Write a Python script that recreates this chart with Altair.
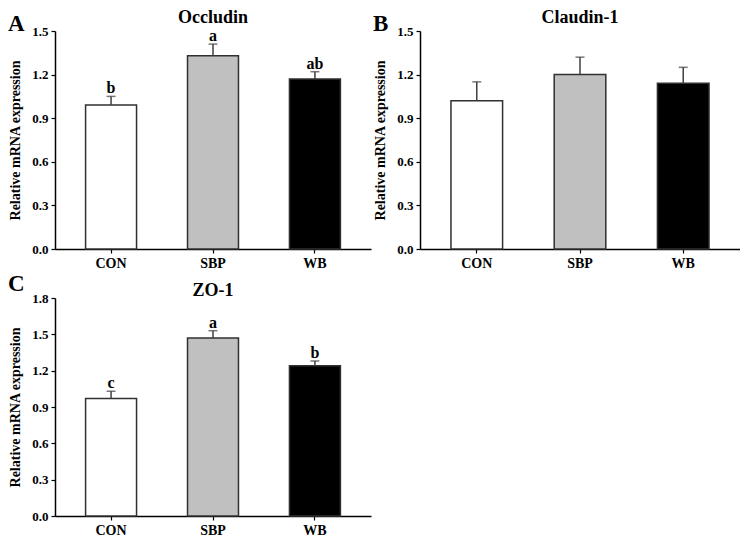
import altair as alt
import pandas as pd

categories = ["CON", "SBP", "WB"]
fills = ["#ffffff", "#c0c0c0", "#000000"]

occludin_mean = [0.99, 1.33, 1.17]
occludin_sem = [0.06, 0.08, 0.05]
occludin_sig = ["b", "a", "ab"]

claudin_mean = [1.02, 1.20, 1.14]
claudin_sem = [0.13, 0.12, 0.11]
claudin_sig = ["", "", ""]

zo1_mean = [0.97, 1.47, 1.24]
zo1_sem = [0.06, 0.06, 0.04]
zo1_sig = ["c", "a", "b"]

FONT = "Liberation Serif"


def panel(title, letter, means, sems, sigs, ymax, ticks, width, height, title_y, letter_y):
    df = pd.DataFrame({
        "cat": categories,
        "mean": means,
        "top": [m + s for m, s in zip(means, sems)],
        "sig": sigs,
        "fill": fills,
    })
    x = alt.X("cat:N", sort=categories,
              scale=alt.Scale(paddingInner=0.5, paddingOuter=0.3),
              axis=alt.Axis(title=None, labelAngle=0, labelFont=FONT, labelFontSize=14,
                            labelFontWeight="bold", labelColor="black", domainColor="black",
                            domainWidth=1.5, tickColor="black", tickSize=4, tickWidth=1.2,
                            labelPadding=3))
    yscale = alt.Scale(domain=[0, ymax], nice=False, zero=True)
    y = alt.Y("mean:Q", scale=yscale,
              axis=alt.Axis(title="Relative mRNA expression", values=ticks,
                            tickCount=len(ticks), format=".1f",
                            grid=False, labelOverlap=False, labelFont=FONT, labelFontSize=13,
                            labelFontWeight="bold", labelColor="black",
                            titleFont=FONT, titleFontSize=14, titleFontWeight="bold",
                            titleColor="black", titlePadding=9, domainColor="black",
                            domainWidth=1.5, tickColor="black", tickSize=4, tickWidth=1.2,
                            labelPadding=3))
    base = alt.Chart(df)
    bars = base.mark_bar(stroke="#303030", strokeWidth=1.5).encode(
        x=x, y=y, fill=alt.Fill("fill:N", scale=None))
    err = base.mark_rule(color="#404040", strokeWidth=1.5).encode(
        x=alt.X("cat:N", sort=categories), y=alt.Y("mean:Q"), y2="top:Q")
    cap = base.mark_tick(color="#404040", thickness=1.5, size=9).encode(
        x=alt.X("cat:N", sort=categories), y=alt.Y("top:Q"))
    sig = base.mark_text(font=FONT, fontSize=16, fontWeight="bold", baseline="alphabetic",
                         dy=-3, color="black").encode(
        x=alt.X("cat:N", sort=categories), y=alt.Y("top:Q"), text="sig:N")
    lab = alt.Chart(pd.DataFrame({"t": [letter]})).mark_text(
        font=FONT, fontSize=23, fontWeight="bold", align="left", baseline="alphabetic",
        color="black").encode(x=alt.value(-47), y=alt.value(letter_y), text="t:N")
    ttl = alt.Chart(pd.DataFrame({"t": [title]})).mark_text(
        font=FONT, fontSize=18, fontWeight="bold", align="center", baseline="alphabetic",
        color="black").encode(x=alt.value(width / 2), y=alt.value(title_y), text="t:N")
    return alt.layer(bars, err, cap, sig, lab, ttl).properties(width=width, height=height)


a = panel("Occludin", "A", occludin_mean, occludin_sem, occludin_sig, 1.5,
          [0, 0.3, 0.6, 0.9, 1.2, 1.5], 316, 218, -8, 0)
b = panel("Claudin-1", "B", claudin_mean, claudin_sem, claudin_sig, 1.5,
          [0, 0.3, 0.6, 0.9, 1.2, 1.5], 320, 218, -8, 0)
c = panel("ZO-1", "C", zo1_mean, zo1_sem, zo1_sig, 1.8,
          [0, 0.3, 0.6, 0.9, 1.2, 1.5, 1.8], 316, 218, -2, -7)

chart = alt.vconcat(
    alt.hconcat(a, b, spacing=2),
    alt.hconcat(c),
    spacing=3,
).properties(
    padding={"top": 1, "left": 0, "right": 0, "bottom": 0},
    background="white",
).configure_view(stroke=None)

chart.save("out.html", embed_options={"renderer": "svg", "actions": False})
